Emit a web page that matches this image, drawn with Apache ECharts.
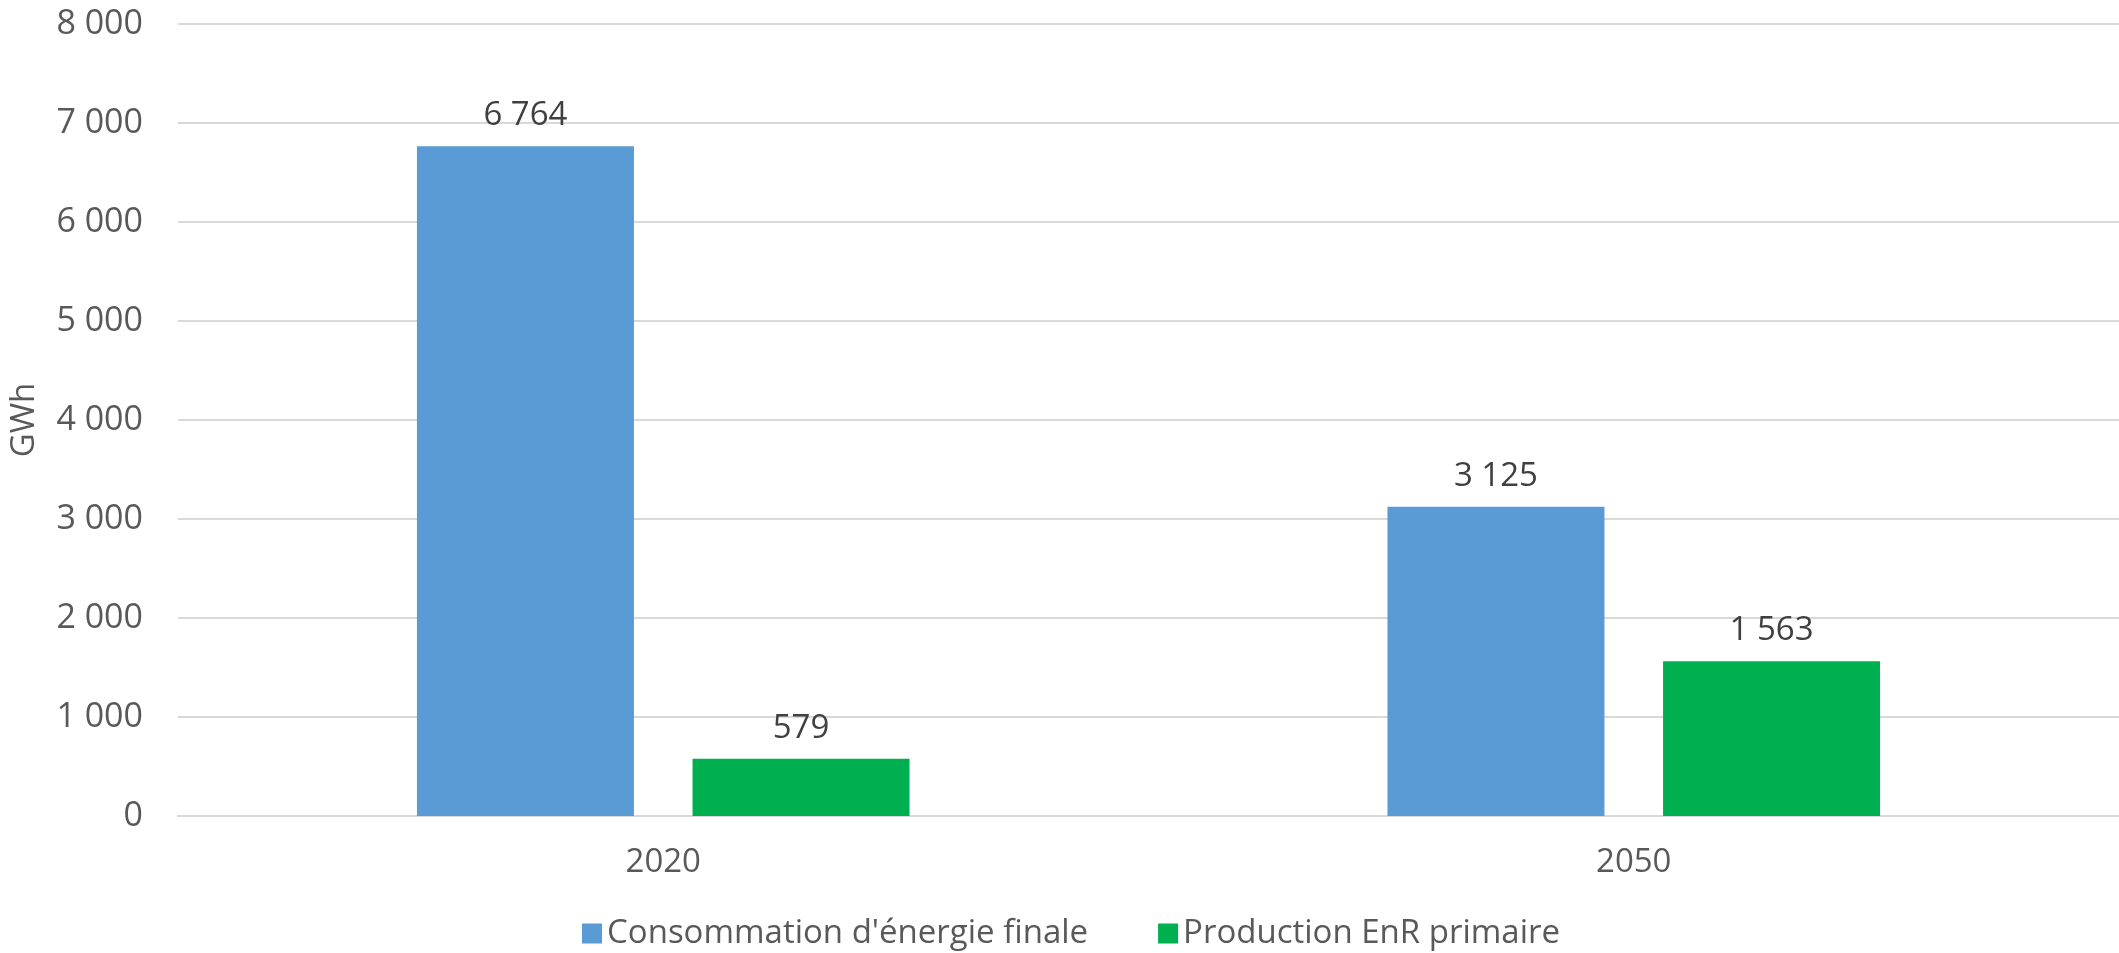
<!DOCTYPE html>
<html>
<head>
<meta charset="utf-8">
<script src="https://cdn.jsdelivr.net/npm/echarts@6/dist/echarts.min.js"></script>
<style>
html,body{margin:0;padding:0;background:#fff;}
#chart{width:2119px;height:953px;}
</style>
</head>
<body>
<div id="chart"></div>
<script>
const categories = ['2020', '2050'];
const consommation = [6764, 3125];
const production = [579, 1563];
const seriesNames = ["Consommation d'énergie finale", 'Production EnR primaire'];
const yName = 'GWh';

function fmt(v) {
  return String(Math.round(v)).replace(/\B(?=(\d{3})+(?!\d))/g, ' ');
}

const FONT = '"Open Sans", sans-serif';
const chart = echarts.init(document.getElementById('chart'));
chart.setOption({
  animation: false,
  backgroundColor: '#ffffff',
  grid: { left: 178, right: 0, top: 24, bottom: 137, containLabel: false, outerBoundsMode: 'none' },
  legend: {
    data: seriesNames,
    left: 577,
    top: 912,
    itemWidth: 20,
    itemHeight: 20,
    itemGap: 70,
    icon: 'rect',
    textStyle: { fontFamily: FONT, fontSize: 33, color: '#595959' }
  },
  xAxis: {
    type: 'category',
    data: categories,
    axisLine: { show: true, lineStyle: { color: '#d9d9d9', width: 2 } },
    axisTick: { show: false },
    axisLabel: { fontFamily: FONT, fontSize: 33, color: '#595959', margin: 30 }
  },
  yAxis: {
    type: 'value',
    min: 0,
    max: 8000,
    interval: 1000,
    name: yName,
    nameLocation: 'middle',
    nameGap: 137,
    nameRotate: 90,
    nameTextStyle: { fontFamily: FONT, fontSize: 33, color: '#595959' },
    axisLine: { show: false },
    axisTick: { show: false },
    splitLine: { lineStyle: { color: '#d9d9d9', width: 2 } },
    axisLabel: { fontFamily: FONT, fontSize: 34, color: '#595959', margin: 35, formatter: fmt }
  },
  series: [
    {
      name: seriesNames[0],
      type: 'bar',
      data: consommation,
      barWidth: 217,
      barGap: '27%',
      itemStyle: { color: '#5B9BD5' },
      label: { show: true, position: 'top', distance: 14, fontFamily: FONT, fontSize: 33, color: '#404040', formatter: p => fmt(p.value) }
    },
    {
      name: seriesNames[1],
      type: 'bar',
      data: production,
      barWidth: 217,
      barGap: '27%',
      itemStyle: { color: '#00B050' },
      label: { show: true, position: 'top', distance: 14, fontFamily: FONT, fontSize: 33, color: '#404040', formatter: p => fmt(p.value) }
    }
  ]
});
</script>
</body>
</html>
